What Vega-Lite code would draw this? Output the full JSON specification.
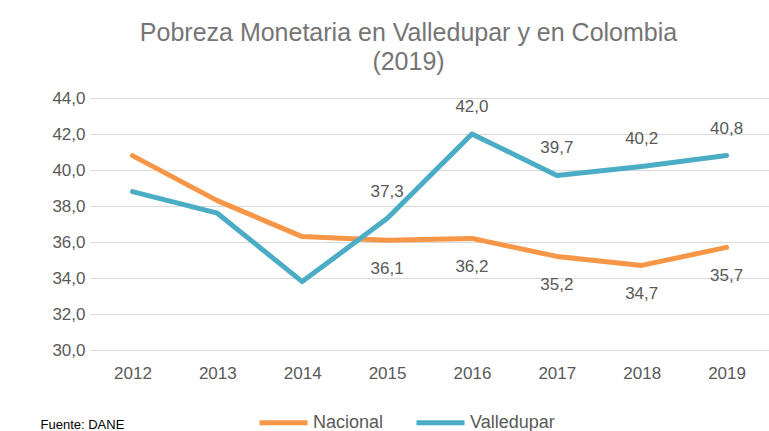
{
  "$schema": "https://vega.github.io/schema/vega-lite/v6.json",
  "autosize": "none",
  "width": 679,
  "height": 252,
  "padding": {"left": 90, "top": 98, "right": 0, "bottom": 81},
  "background": "white",
  "config": {
    "locale": {"number": {"decimal": ",", "thousands": ".", "grouping": [3], "currency": ["$", ""]}},
    "font": "Liberation Sans",
    "view": {"stroke": null}
  },
  "title": {
    "text": ["Pobreza Monetaria en Valledupar y en Colombia", "(2019)"],
    "fontSize": 25,
    "fontWeight": "normal",
    "color": "#757575",
    "font": "Liberation Sans",
    "anchor": "middle",
    "lineHeight": 29,
    "offset": 14,
    "dx": -21
  },
  "data": {
    "values": [
      {"year": "2012", "serie": "Nacional", "value": 40.8},
      {"year": "2013", "serie": "Nacional", "value": 38.3},
      {"year": "2014", "serie": "Nacional", "value": 36.3},
      {"year": "2015", "serie": "Nacional", "value": 36.1},
      {"year": "2016", "serie": "Nacional", "value": 36.2},
      {"year": "2017", "serie": "Nacional", "value": 35.2},
      {"year": "2018", "serie": "Nacional", "value": 34.7},
      {"year": "2019", "serie": "Nacional", "value": 35.7},
      {"year": "2012", "serie": "Valledupar", "value": 38.8},
      {"year": "2013", "serie": "Valledupar", "value": 37.6},
      {"year": "2014", "serie": "Valledupar", "value": 33.8},
      {"year": "2015", "serie": "Valledupar", "value": 37.3},
      {"year": "2016", "serie": "Valledupar", "value": 42.0},
      {"year": "2017", "serie": "Valledupar", "value": 39.7},
      {"year": "2018", "serie": "Valledupar", "value": 40.2},
      {"year": "2019", "serie": "Valledupar", "value": 40.8}
    ]
  },
  "encoding": {
    "x": {
      "field": "year",
      "type": "ordinal",
      "scale": {"type": "point", "padding": 0.5},
      "axis": {
        "title": "Fuente: DANE",
        "titleFontSize": 13,
        "titleFontWeight": "normal",
        "titleColor": "#000000",
        "titleAnchor": "start",
        "titleAlign": "left",
        "titleBaseline": "alphabetic",
        "titleX": -50,
        "titleY": 78,
        "labelAngle": 0,
        "labelFontSize": 17,
        "labelColor": "#595959",
        "labelPadding": 15,
        "domain": false,
        "ticks": false,
        "grid": false
      }
    },
    "y": {
      "field": "value",
      "type": "quantitative",
      "scale": {"domain": [30, 44], "nice": false, "zero": false},
      "axis": {
        "title": null,
        "values": [30, 32, 34, 36, 38, 40, 42, 44],
        "format": ".1f",
        "labelFontSize": 17,
        "labelColor": "#595959",
        "labelPadding": 5,
        "domain": false,
        "ticks": false,
        "grid": true,
        "gridColor": "#D9D9D9",
        "gridWidth": 1
      }
    }
  },
  "layer": [
    {
      "mark": {"type": "line", "strokeWidth": 5, "strokeCap": "round", "strokeJoin": "round"},
      "encoding": {
        "color": {
          "field": "serie",
          "type": "nominal",
          "scale": {"domain": ["Nacional", "Valledupar"], "range": ["#F79646", "#4BACC6"]},
          "legend": {
            "title": null,
            "orient": "none",
            "direction": "horizontal",
            "legendX": 167,
            "legendY": 298,
            "symbolType": "stroke",
            "symbolSize": 2304,
            "symbolStrokeWidth": 5,
            "labelFontSize": 18,
            "labelColor": "#595959",
            "labelOffset": 3,
            "columnPadding": 22
          }
        }
      }
    },
    {
      "transform": [{"filter": "datum.serie == 'Valledupar' && toNumber(datum.year) >= 2015"}],
      "mark": {"type": "text", "dy": -27, "fontSize": 17, "color": "#595959", "baseline": "middle"},
      "encoding": {"text": {"field": "value", "type": "quantitative", "format": ".1f"}}
    },
    {
      "transform": [{"filter": "datum.serie == 'Nacional' && toNumber(datum.year) >= 2015"}],
      "mark": {"type": "text", "dy": 29, "fontSize": 17, "color": "#595959", "baseline": "middle"},
      "encoding": {"text": {"field": "value", "type": "quantitative", "format": ".1f"}}
    }
  ]
}
